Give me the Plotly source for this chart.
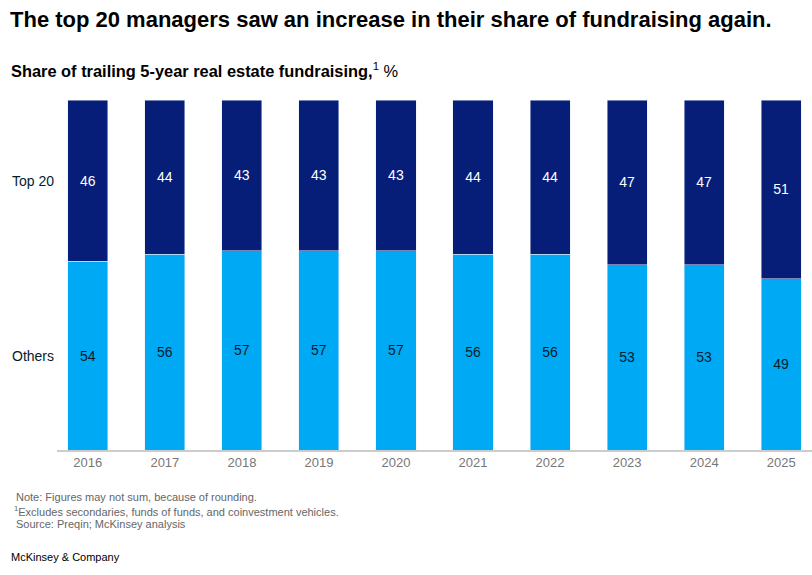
import plotly.graph_objects as go

years = ["2016", "2017", "2018", "2019", "2020", "2021", "2022", "2023", "2024", "2025"]
others = [54, 56, 57, 57, 57, 56, 56, 53, 53, 49]
top20 = [46, 44, 43, 43, 43, 44, 44, 47, 47, 51]
series_names = ["Others", "Top 20"]

DARK = "#061E78"
LIGHT = "#00A9F4"
INK = "#051C2C"
FONT = "Liberation Sans"

xs = list(range(len(years)))

fig = go.Figure()
fig.add_trace(go.Bar(
    x=xs, y=others, name=series_names[0], marker_color=LIGHT, width=0.52,
    text=[str(v) for v in others], textposition="inside", insidetextanchor="middle",
    textfont=dict(color=INK, size=14, family=FONT), hoverinfo="skip"))
fig.add_trace(go.Bar(
    x=xs, y=top20, name=series_names[1], marker_color=DARK, width=0.52,
    text=[str(v) for v in top20], textposition="inside", insidetextanchor="middle",
    textfont=dict(color="white", size=14, family=FONT), hoverinfo="skip"))

fig.update_layout(
    barmode="stack",
    width=812, height=575,
    margin=dict(l=57, r=0, t=100, b=125),
    paper_bgcolor="white", plot_bgcolor="white",
    showlegend=False,
    font=dict(family=FONT, color=INK),
    uniformtext=dict(mode="show", minsize=14),
)
fig.update_xaxes(
    range=[-0.4, len(years) - 1 + 0.4],
    tickmode="array", tickvals=xs, ticktext=years,
    showgrid=False, zeroline=False,
    showline=True, linecolor="#cccccc", linewidth=1.5,
    ticks="", tickfont=dict(size=13, color="#777777", family=FONT),
)
fig.update_yaxes(range=[0, 100], visible=False)

# series labels on the left
fig.add_annotation(x=0, xref="paper", xanchor="right", xshift=-1,
                   y=100 - top20[0] / 2, yref="y", text=series_names[1],
                   showarrow=False, font=dict(size=14, color=INK, family=FONT))
fig.add_annotation(x=0, xref="paper", xanchor="right", xshift=-1,
                   y=others[0] / 2, yref="y", text=series_names[0],
                   showarrow=False, font=dict(size=14, color=INK, family=FONT))

# title and subtitle
fig.add_annotation(
    xref="paper", yref="paper", x=(8 - 57) / 755, y=1 + (100 - 20) / 350,
    xanchor="left", yanchor="middle", showarrow=False,
    text="<b>The top 20 managers saw an increase in their share of fundraising again.</b>",
    font=dict(size=22, color="#000000", family=FONT))
fig.add_annotation(
    xref="paper", yref="paper", x=(9 - 57) / 755, y=1 + (100 - 70) / 350,
    xanchor="left", yanchor="middle", showarrow=False,
    text="<b>Share of trailing 5-year real estate fundraising,</b><sup>1</sup> %",
    font=dict(size=16.4, color="#000000", family=FONT))

# footnotes
notes = [
    (14, 497, "Note: Figures may not sum, because of rounding."),
    (12, 511, "<sup>1</sup>Excludes secondaries, funds of funds, and coinvestment vehicles."),
    (14, 524, "Source: Preqin; McKinsey analysis"),
]
for nx, ny, t in notes:
    fig.add_annotation(
        xref="paper", yref="paper", x=(nx - 57) / 755, y=(450 - ny) / 350,
        xanchor="left", yanchor="middle", showarrow=False, text=t,
        font=dict(size=11, color="#666666", family=FONT))
fig.add_annotation(
    xref="paper", yref="paper", x=(9 - 57) / 755, y=(450 - 557) / 350,
    xanchor="left", yanchor="middle", showarrow=False, text="McKinsey & Company",
    font=dict(size=11, color="#000000", family=FONT))

fig.write_html("out.html")
